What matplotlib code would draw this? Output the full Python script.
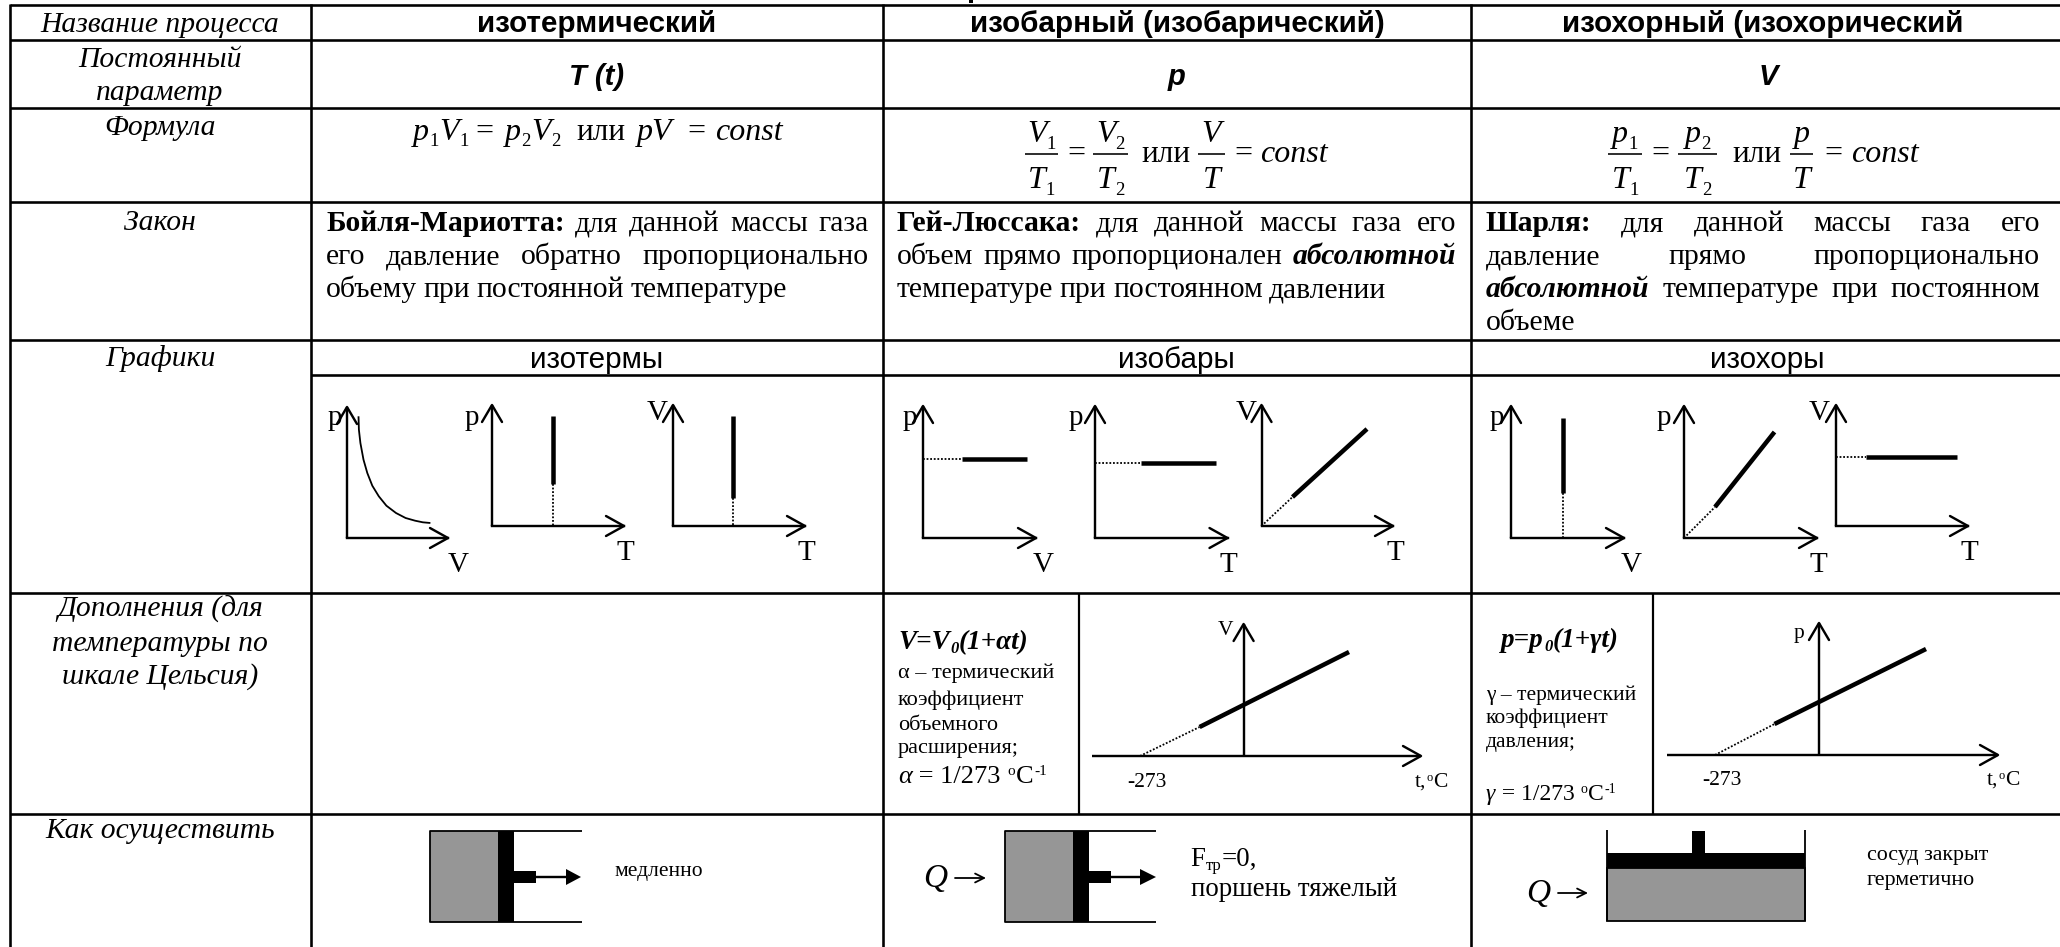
import matplotlib
matplotlib.use("Agg")
import matplotlib.pyplot as plt
from matplotlib.patches import Rectangle, Polygon

# table text
row_labels = [
    ["Название процесса"],
    ["Постоянный", "параметр"],
    ["Формула"],
    ["Закон"],
    ["Графики"],
    ["Дополнения (для", "температуры по", "шкале Цельсия)"],
    ["Как осуществить"],
]
process_names = ["изотермический", "изобарный (изобарический)", "изохорный (изохорический"]
const_params = ["T (t)", "p", "V"]
graph_titles = ["изотермы", "изобары", "изохоры"]

law_boyle = [
    [("Бойля-Мариотта:", "b"), ("для", "r"), ("данной", "r"), ("массы", "r"), ("газа", "r")],
    [("его", "r"), ("давление", "r"), ("обратно", "r"), ("пропорционально", "r")],
    [("объему", "r"), ("при", "r"), ("постоянной", "r"), ("температуре", "r")],
]
law_gay_lussac = [
    [("Гей-Люссака:", "b"), ("для", "r"), ("данной", "r"), ("массы", "r"), ("газа", "r"), ("его", "r")],
    [("объем", "r"), ("прямо", "r"), ("пропорционален", "r"), ("абсолютной", "bi")],
    [("температуре", "r"), ("при", "r"), ("постоянном", "r"), ("давлении", "r")],
]
law_charles = [
    [("Шарля:", "b"), ("для", "r"), ("данной", "r"), ("массы", "r"), ("газа", "r"), ("его", "r")],
    [("давление", "r"), ("прямо", "r"), ("пропорционально", "r")],
    [("абсолютной", "bi"), ("температуре", "r"), ("при", "r"), ("постоянном", "r")],
    [("объеме", "r")],
]

# isotherm, distance from the axes corner
isotherm_v = [11.5, 11.9, 13.4, 16.5, 20.3, 25.3, 31.8, 39.4, 49, 58.6, 68.1, 75.8, 83.4]
isotherm_p = [121.7, 108.3, 95, 78.3, 65, 52.3, 41.7, 32.3, 25, 20, 17.3, 15.7, 15]

W, H = 2060, 947
SERIF = "Liberation Serif"
SANS = "Liberation Sans"
BODY = 21.3
SMALL = 16
LABEL = 15.5

fig = plt.figure(figsize=(W / 100, H / 100), dpi=100)
ax = fig.add_axes([0, 0, 1, 1])
ax.set_xlim(0, W)
ax.set_ylim(H, 0)
ax.axis("off")
renderer = fig.canvas.get_renderer()


def line(xs, ys, px=2.4, ls="-", color="black", cap="butt"):
    ax.plot(xs, ys, color=color, lw=px * 0.72, ls=ls, solid_capstyle=cap, dash_capstyle="butt")


def dotted(xs, ys):
    line(xs, ys, px=1.8, ls=(0, (1, 1)))


def serif(x, y, s, size=BODY, ha="left", style="r"):
    return ax.text(
        x, y, s, ha=ha, va="baseline", fontsize=size, color="black", family=SERIF,
        style="italic" if "i" in style else "normal",
        weight="bold" if "b" in style else "normal",
    )


def sans(x, y, s, size=21.3, bold=True, italic=False):
    ax.text(x, y, s, ha="center", va="baseline", fontsize=size, color="black", family=SANS,
            weight="bold" if bold else "normal", style="italic" if italic else "normal")


def text_width(s, size=BODY, style="r"):
    t = serif(0, 0, s, size=size, style=style)
    w = t.get_window_extent(renderer).width
    t.remove()
    return w


def justified(words, left, right, y, stretch=True):
    widths = [text_width(w, style=st) for w, st in words]
    gap = (right - left - sum(widths)) / (len(words) - 1) if stretch and len(words) > 1 else 6.5
    x = left
    for (w, st), wd in zip(words, widths):
        serif(x, y, w, style=st)
        x += wd + gap


def run(x, y, pieces):
    # pieces: text, style, size, baseline shift
    for s, st, size, dy in pieces:
        serif(x, y + dy, s, size=size, style=st)
        x += text_width(s, size=size, style=st) + 0.5


F, FS = 23, 13.5


def frac(x0, x1, y_bar, top, top_sub, bottom, bottom_sub):
    line([x0, x1], [y_bar, y_bar], px=1.6)
    for s, s2, y in [(top, top_sub, y_bar - 12), (bottom, bottom_sub, y_bar + 34)]:
        w = text_width(s, F, "i") + (text_width(s2, FS) if s2 else 0)
        x = (x0 + x1) / 2 - w / 2
        serif(x, y, s, size=F, style="i")
        if s2:
            serif(x + text_width(s, F, "i"), y + 7, s2, size=FS)


def arrow_axes(x0, y0, x1, y1):
    # corner at (x0, y0), arrow tips at (x1, y0) and (x0, y1)
    line([x0, x1], [y0, y0], cap="projecting")
    line([x0, x0], [y0, y1])
    line([x1 - 18, x1, x1 - 18], [y0 - 10, y0, y0 + 10], cap="round")
    line([x0 - 10, x0, x0 + 10], [y1 + 17, y1, y1 + 17], cap="round")


def piston(x0, x_gas, x_piston, x_rod, x_head, x_tip, x_end):
    y0, y1 = 831, 922
    ax.add_patch(Rectangle((x0, y0), x_gas - x0, y1 - y0, fc="#969696", ec="none"))
    ax.add_patch(Rectangle((x_gas, y0), x_piston - x_gas, y1 - y0, fc="black", ec="none"))
    ax.add_patch(Rectangle((x_piston, 871), x_rod - x_piston, 12, fc="black", ec="none"))
    line([x_end, x0, x0, x_end], [y0, y0, y1, y1], px=1.8)
    line([x_rod, x_head], [877, 877], px=2.4)
    ax.add_patch(Polygon([(x_head, 869), (x_tip, 877), (x_head, 885)], fc="black", ec="none"))


def heat_arrow(x0, x1, y):
    ax.annotate("", xy=(x1, y), xytext=(x0, y),
                arrowprops=dict(arrowstyle="->", lw=1.3, color="black", shrinkA=0, shrinkB=0, mutation_scale=16))


# table grid
for y, x0 in [(5, 10), (40, 10), (108, 10), (202, 10), (340, 10), (375, 311), (593, 10), (814, 10)]:
    line([x0, W], [y, y], px=2.6)
for x in [10, 311, 883, 1471]:
    line([x, x], [4, H], px=2.6)
line([1079, 1079], [593, 814], px=2.2)
line([1653, 1653], [593, 814], px=2.2)
line([970.5, 970.5], [0, 2.5], px=4)

# first column
label_y = [[32], [67, 100], [135], [230], [366], [617, 651, 684], [838]]
for lines, ys in zip(row_labels, label_y):
    for s, y in zip(lines, ys):
        serif(160, y, s, ha="center", style="i")

# header rows
col_x = [597, 1177, 1763]
param_x = [597, 1177, 1768]
graph_x = [597, 1176, 1767]
for x, s in zip(col_x, process_names):
    sans(x, 32, s)
for x, s in zip(param_x, const_params):
    sans(x, 85, s, size=21, italic=True)
for x, s in zip(graph_x, graph_titles):
    sans(x, 368, s, bold=False)

# formulas
run(413, 140, [("p", "i", F, 0), ("1", "r", FS, 6), ("V", "i", F, 0), ("1", "r", FS, 6)])
serif(484, 140, "=", size=F, ha="center")
run(505, 140, [("p", "i", F, 0), ("2", "r", FS, 6), ("V", "i", F, 0), ("2", "r", FS, 6)])
serif(576, 140, "или", size=22.5)
run(637, 140, [("pV", "i", F, 0)])
serif(696, 140, "=", size=F, ha="center")
serif(715, 140, "const", size=F, style="i")

frac(1025, 1058, 154, "V", "1", "T", "1")
serif(1076, 162, "=", size=F, ha="center")
frac(1093, 1128, 154, "V", "2", "T", "2")
serif(1141, 162, "или", size=22.5)
frac(1198, 1225, 154, "V", "", "T", "")
serif(1243, 162, "=", size=F, ha="center")
serif(1260, 162, "const", size=F, style="i")

frac(1608, 1642, 154, "p", "1", "T", "1")
serif(1660, 162, "=", size=F, ha="center")
frac(1678, 1717, 154, "p", "2", "T", "2")
serif(1732, 162, "или", size=22.5)
frac(1790, 1813, 154, "p", "", "T", "")
serif(1833, 162, "=", size=F, ha="center")
serif(1851, 162, "const", size=F, style="i")

# laws
law_y = [231, 264, 297, 330]
for law, left, right in [(law_boyle, 326, 869), (law_gay_lussac, 897, 1456), (law_charles, 1486, 2040)]:
    for i, words in enumerate(law):
        last = i == len(law) - 1
        justified(words, left, right, law_y[i], stretch=not last)

# graphs, isotherms
arrow_axes(347, 538, 448, 407)
line([347 + v for v in isotherm_v], [538 - p for p in isotherm_p], px=1.8)
arrow_axes(492, 526, 624, 405)
line([553, 553], [416, 484], px=4.5)
dotted([553, 553], [484, 526])
arrow_axes(673, 526, 805, 405)
line([733, 733], [416, 498], px=4.5)
dotted([733, 733], [498, 526])
# isobars
arrow_axes(923, 538, 1036, 406)
line([962, 1027], [459, 459], px=4.5)
dotted([923, 962], [459, 459])
arrow_axes(1095, 538, 1227.5, 406)
line([1141, 1216], [463, 463], px=4.5)
dotted([1095, 1141], [463, 463])
arrow_axes(1261.5, 526, 1393, 405)
line([1292.5, 1367], [497, 429], px=4.5)
dotted([1261.5, 1292.5], [526, 497])
# isochores
arrow_axes(1511, 538, 1624, 406)
line([1563, 1563], [418, 493], px=4.5)
dotted([1563, 1563], [493, 538])
arrow_axes(1684, 538, 1817, 406)
line([1715, 1774.5], [507, 432], px=4.5)
dotted([1684, 1715], [538, 507])
arrow_axes(1836, 526, 1968, 405)
line([1866, 1957], [457, 457], px=4.5)
dotted([1836, 1866], [457, 457])

for x, y, s in [(335, 425, "p"), (458, 572, "V"), (472, 425, "p"), (625, 560, "T"), (657, 420, "V"), (806, 560, "T"),
                (910, 425, "p"), (1043, 572, "V"), (1076, 425, "p"), (1228, 572, "T"), (1246, 420, "V"), (1395, 560, "T"),
                (1497, 425, "p"), (1631, 572, "V"), (1664, 425, "p"), (1818, 572, "T"), (1819, 420, "V"), (1969, 560, "T")]:
    serif(x, y, s, size=21, ha="center")

# celsius scale, isobaric
run(898, 649, [("V=V", "bi", 19.5, 0), ("0", "bi", 12, 4), ("(1+αt)", "bi", 19.5, 0)])
serif(898, 678, "α – термический", size=SMALL)
serif(898, 705, "коэффициент", size=SMALL)
serif(898, 730, "объемного", size=SMALL)
serif(898, 753, "расширения;", size=SMALL)
run(898, 783, [("α", "i", 19, 0), (" = 1/273 ", "r", 19, 0), ("o", "r", 11, -8), ("C", "r", 19, 0), ("-1", "r", 11, -8)])
line([1092, 1421], [756, 756])
line([1403, 1421, 1403], [746, 756, 766], cap="round")
line([1243.6, 1243.6], [756, 624])
line([1233.6, 1243.6, 1253.6], [641, 624, 641], cap="round")
line([1199.6, 1349], [727, 652], px=4.5)
dotted([1140, 1199.6], [756, 727])
serif(1226, 635, "V", size=LABEL, ha="center")
serif(1147, 787, "-273", size=LABEL, ha="center")
run(1415, 787, [("t,", "r", LABEL, 0), ("o", "r", 9, -6), ("C", "r", LABEL, 0)])

# celsius scale, isochoric
run(1501, 647, [("p=p", "bi", 19.5, 0), ("0", "bi", 12, 4), ("(1+γt)", "bi", 19.5, 0)])
serif(1486, 700, "γ – термический", size=LABEL)
serif(1486, 723, "коэффициент", size=LABEL)
serif(1486, 747, "давления;", size=LABEL)
run(1486, 800, [("γ", "i", 17, 0), (" = 1/273 ", "r", 17, 0), ("o", "r", 10, -7), ("C", "r", 17, 0), ("-1", "r", 10, -7)])
line([1667, 1998], [755, 755])
line([1980, 1998, 1980], [745, 755, 765], cap="round")
line([1819, 1819], [755, 623])
line([1809, 1819, 1829], [640, 623, 640], cap="round")
line([1774.5, 1926], [724, 649], px=4.5)
dotted([1715, 1774.5], [755, 724])
serif(1799, 638, "p", size=LABEL, ha="center")
serif(1721.5, 785, "-273", size=LABEL, ha="center")
run(1987, 785, [("t,", "r", LABEL, 0), ("o", "r", 9, -6), ("C", "r", LABEL, 0)])

# how to do it
piston(430, 498, 513.5, 536, 566, 581, 582)
serif(614, 876, "медленно", size=LABEL)

piston(1005, 1073, 1088.6, 1111, 1140, 1156, 1156)
serif(923, 887, "Q", size=24, style="i")
heat_arrow(955, 986, 878)
run(1190, 866, [("F", "r", 19.4, 0), ("тр", "r", 12, 4), ("=0,", "r", 19.4, 0)])
serif(1191, 896, "поршень тяжелый", size=19.4)

ax.add_patch(Rectangle((1607, 868), 198, 53, fc="#969696", ec="black", lw=1.3))
ax.add_patch(Rectangle((1607, 853), 198, 15, fc="black", ec="none"))
ax.add_patch(Rectangle((1692, 831), 12.5, 22, fc="black", ec="none"))
line([1607, 1607], [830, 921], px=1.8)
line([1805, 1805], [830, 921], px=1.8)
serif(1526, 902, "Q", size=24, style="i")
heat_arrow(1558, 1588, 893)
serif(1867, 860, "сосуд закрыт", size=15.8)
serif(1867, 885, "герметично", size=15.8)

fig.savefig("out.png", dpi=100)
